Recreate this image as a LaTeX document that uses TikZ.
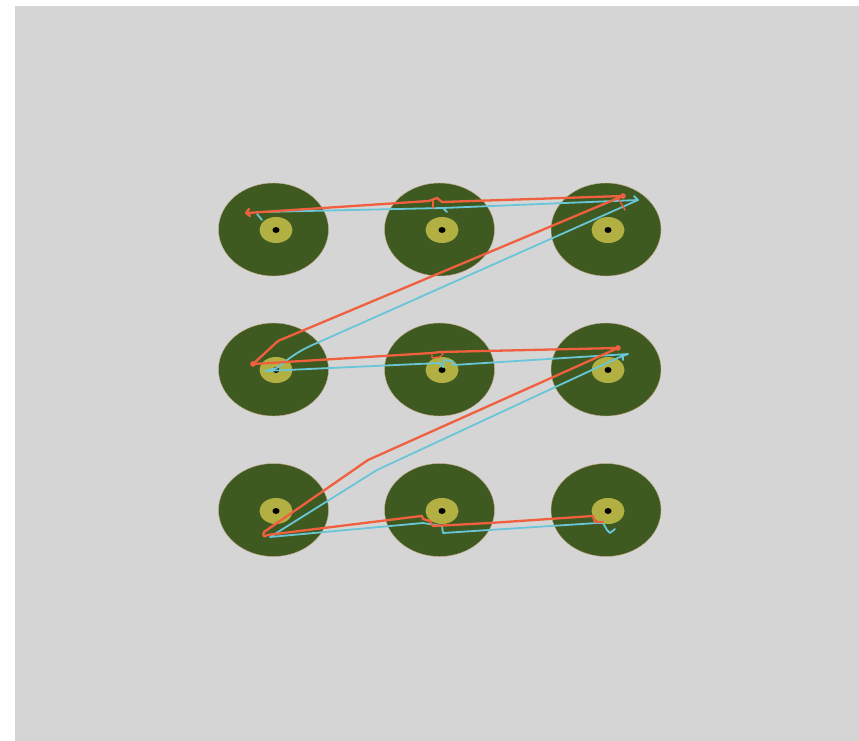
\documentclass[tikz,border=0pt]{standalone}
\usetikzlibrary{shapes.geometric}
\definecolor{bggray}{RGB}{213,213,213}
\definecolor{padgreen}{RGB}{63,90,33}
\definecolor{padedge}{RGB}{200,170,140}
\definecolor{ringyellow}{RGB}{178,176,66}
\definecolor{tracered}{RGB}{240,96,62}
\definecolor{tracecyan}{RGB}{104,198,216}
\tikzset{
  pad/.style={ellipse,fill=padgreen,draw=padedge,line width=0.4pt,minimum width=110pt,minimum height=93pt,inner sep=0pt},
  ring/.style={ellipse,fill=ringyellow,minimum width=33pt,minimum height=26pt,inner sep=0pt},
  hole/.style={ellipse,fill=black,minimum width=7pt,minimum height=6pt,inner sep=0pt},
  redtrace/.style={draw=tracered,line width=2.3pt,line join=round,line cap=round},
  cyantrace/.style={draw=tracecyan,line width=1.8pt,line join=round,line cap=round}
}
\begin{document}
\begin{tikzpicture}[x=1pt,y=-1pt]
\useasboundingbox (0,0) rectangle (859,741);
\fill[white] (0,0) rectangle (859,741);
\fill[bggray] (15,6) rectangle (859,741);
% pads
\foreach \c/\x/\dx in {1/273.5/276,2/439.5/442,3/606/608}{
  \foreach \r/\y/\dy in {1/229.5/230,2/369.5/370,3/510/511}{
    \node[pad] (pad\r\c) at (\x,\y) {};
    \node[ring] (ring\r\c) at (\dx,\dy) {};
    \node[hole] (hole\r\c) at (\dx,\dy) {};
  }
}
% cyan trace
\path[cyantrace] (257,214) -- (262,220);
\path[cyantrace] (262,212) -- (443,208) -- (447,212);
\path[cyantrace] (443,208) -- (638,200) -- (634,196);
\path[cyantrace] (638,200) -- (317,343) .. controls (295,352) and (285,362) .. (277,368)
  -- (265,371) -- (440,363) -- (443,367) -- (444,360) -- (452,361) -- (453,365)
  -- (628,354) -- (623,356) -- (623,360) -- (622,356)
  -- (377,470) -- (270,537) -- (423,523) -- (442,526) -- (443,533)
  -- (597,523) -- (603,523) -- (607,530) -- (610,533) -- (615,529);
% red trace
\path[redtrace] (249,209) -- (246,213) -- (250,216);
\path[redtrace] (247,213) -- (429,201) -- (437,198) -- (442,202) -- (623,196)
  -- (278,341) -- (253,364) -- (432,353) -- (440,352) -- (618,348)
  -- (368,460) -- (264,532) .. controls (262,536) and (265,538) .. (267,535)
  -- (413,517) -- (422,516) -- (423,519) -- (430,521) -- (433,526)
  -- (490,523) -- (593,516) -- (595,522) -- (603,522);
\path[redtrace,line width=1.4pt] (433,201) -- (433,208);
\path[redtrace,line width=1.4pt] (618,198) -- (625,210);
\path[redtrace,line width=1.4pt] (432,353) -- (432,358) -- (440,357) -- (443,354) -- (440,351);
\fill[tracered] (618,348) circle (2.8pt);
\fill[tracered] (253,364) circle (2.8pt);
\fill[tracered] (623,196) circle (2.8pt);
\end{tikzpicture}
\end{document}
